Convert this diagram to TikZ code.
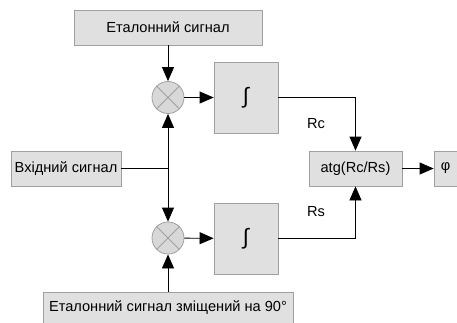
\documentclass[tikz,border=0pt]{standalone}
\usepackage{fontspec}
\setmainfont{Liberation Sans}
\usetikzlibrary{arrows.meta}
\definecolor{boxfill}{RGB}{224,224,224}
\definecolor{boxline}{RGB}{160,160,160}
\definecolor{circfill}{RGB}{216,216,216}
\begin{document}
\begin{tikzpicture}[x=1pt,y=-1pt,
  blk/.style={draw=boxline,fill=boxfill,line width=0.8pt,inner sep=0pt,font=\fontsize{14.6}{17}\selectfont},
  mix/.style={circle,draw=boxline,fill=circfill,line width=0.8pt,minimum size=32pt,inner sep=0pt},
  arr/.style={line width=0.8pt,-{Triangle[length=14pt,width=12pt]}},
  ln/.style={line width=0.8pt},
  lbl/.style={font=\fontsize{14.6}{17}\selectfont}]
\useasboundingbox (0,0) rectangle (457,322);
\node[blk,minimum width=188pt,minimum height=35pt] (ref) at (168,27.5) {Еталонний сигнал};
\node[mix] (m1) at (168,97.5) {};
\node[mix] (m2) at (168,238) {};
\foreach \m in {m1,m2}{
  \draw[boxline,line width=0.8pt] (\m.north east) -- (\m.south west);
  \draw[boxline,line width=0.8pt] (\m.north west) -- (\m.south east);
}
\node[blk,minimum width=64pt,minimum height=71pt,font=\fontsize{22}{24}\selectfont] (i1) at (246,97.5) {∫};
\node[blk,minimum width=64pt,minimum height=71pt,font=\fontsize{22}{24}\selectfont] (i2) at (246,238.5) {∫};
\node[blk,minimum width=93pt,minimum height=35pt] (atg) at (355.5,168.5) {atg(Rc/Rs)};
\node[blk,minimum width=23pt,minimum height=35pt] (phi) at (445.5,168.5) {φ};
\node[blk,minimum width=110pt,minimum height=35pt] (inp) at (66,168.5) {Вхідний сигнал};
\node[blk,minimum width=250pt,minimum height=32pt] (ref2) at (168,308) {Еталонний сигнал зміщений на 90°};
\node[lbl] (rc) at (316,124) {Rc};
\node[lbl] (rs) at (316,212) {Rs};
\coordinate (j) at (168,168.5);
\draw[arr] (ref) -- (m1);
\draw[arr] (m1) -- (i1);
\draw[arr] (m2) -- (i2);
\draw[ln] (inp) -- (j);
\draw[arr] (j) -- (m1);
\draw[arr] (j) -- (m2);
\draw[arr] (ref2) -- (m2);
\draw[arr] (i1.east) -| (atg.north);
\draw[arr] (i2.east) -| (atg.south);
\draw[arr] (atg) -- (phi);
\end{tikzpicture}
\end{document}
